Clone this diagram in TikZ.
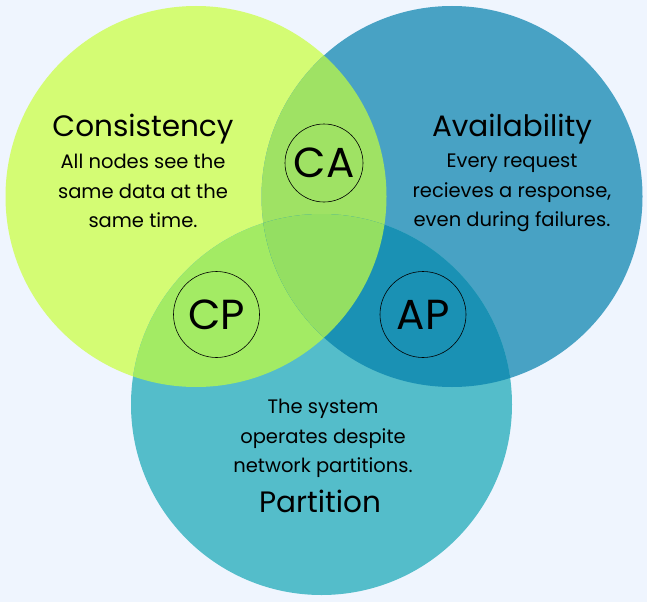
\documentclass[tikz,border=0pt]{standalone}
\usepackage{fontspec}
\setmainfont{Poppins}
\definecolor{bg}{HTML}{EFF5FE}
\definecolor{cyel}{HTML}{D4FC74}
\definecolor{cblu}{HTML}{48A2C4}
\definecolor{ctea}{HTML}{54BDCA}
\definecolor{colCA}{HTML}{9FE264}
\definecolor{colCP}{HTML}{A3EB64}
\definecolor{colAP}{HTML}{1A91B4}
\definecolor{colAll}{HTML}{94DF62}
\begin{document}
\begin{tikzpicture}[x=1pt,y=-1pt,
  title/.style={font=\fontsize{29.5}{32}\selectfont, text=black, inner sep=0pt},
  body/.style={font=\fontsize{19.5}{29.5}\selectfont, text=black, align=center, inner sep=0pt},
  lab/.style={circle, draw=black, line width=0.6pt, font=\fontsize{42}{42}\selectfont, inner sep=0pt}]
\useasboundingbox (0,0) rectangle (647,602);
\fill[bg] (0,0) rectangle (647,602);
\def\R{190.5}
\coordinate (cC) at (196,196.5);
\coordinate (cA) at (452,196.5);
\coordinate (cP) at (321.5,404.5);
\fill[cyel] (cC) circle[radius=\R];
\fill[cblu] (cA) circle[radius=\R];
\fill[ctea] (cP) circle[radius=\R];
\begin{scope}
  \clip (cC) circle[radius=\R];
  \fill[colCA] (cA) circle[radius=\R];
  \fill[colCP] (cP) circle[radius=\R];
\end{scope}
\begin{scope}
  \clip (cA) circle[radius=\R];
  \fill[colAP] (cP) circle[radius=\R];
\end{scope}
\begin{scope}
  \clip (cC) circle[radius=\R];
  \clip (cA) circle[radius=\R];
  \fill[colAll] (cP) circle[radius=\R];
\end{scope}
\node[title] (tC) at (143,129) {Consistency};
\node[body, anchor=north] (bC) at (143,154) {All nodes see the\\same data at the\\same time.};
\node[title] (tA) at (512,129) {Availability};
\node[body, anchor=north] (bA) at (512,154) {Every request\\recieves a response,\\even during failures.};
\node[body, anchor=north] (bP) at (323,399) {The system\\operates despite\\network partitions.};
\node[title] (tP) at (320,501) {Partition};
\node[lab, minimum size=78pt] (ca) at (324,163) {CA};
\node[lab, minimum size=86pt] (cp) at (216.5,314.5) {CP};
\node[lab, minimum size=86pt] (ap) at (423,314.5) {AP};
\end{tikzpicture}
\end{document}
